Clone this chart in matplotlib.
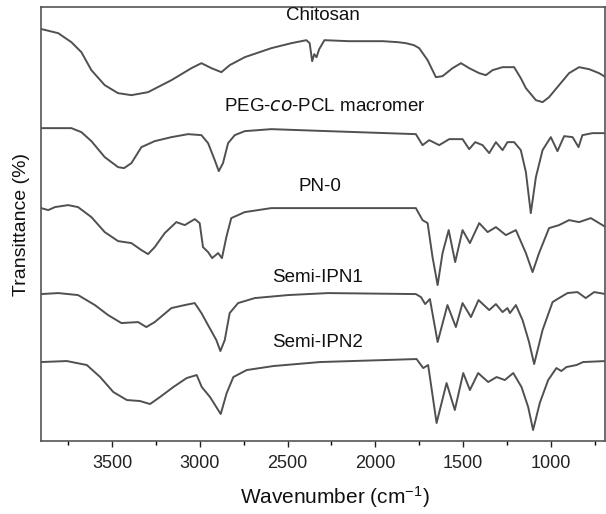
import matplotlib
matplotlib.use("Agg")
import matplotlib.pyplot as plt
from matplotlib.ticker import MultipleLocator

plt.rcParams['font.family'] = ['Liberation Sans', 'DejaVu Sans']
plt.rcParams['mathtext.default'] = 'regular'

# spectra: wavenumber (cm-1) and offset transmittance (a.u.)
chitosan_wn = [3900, 3807, 3732, 3675, 3618, 3542, 3466, 3390, 3295, 3162, 3048, 2991, 2934, 2877,
               2830, 2744, 2593, 2479, 2393, 2374, 2360, 2348, 2335, 2320, 2290, 2150, 1958, 1870,
               1826, 1780, 1750, 1702, 1655, 1617, 1560, 1512, 1465, 1408, 1370, 1332, 1275, 1209,
               1171, 1142, 1085, 1047, 1010, 953, 896, 839, 782, 725, 687]
chitosan_t = [412, 408, 399, 389, 371, 356, 348, 346, 349, 361, 373, 378, 373, 369,
              376, 384, 393, 398, 401, 398, 380, 387, 384, 392, 401, 400, 400, 399,
              398, 396, 393, 381, 364, 365, 373, 378, 373, 368, 366, 371, 374, 374,
              363, 353, 341, 339, 344, 356, 368, 374, 372, 368, 364]

peg_wn = [3904, 3732, 3675, 3618, 3542, 3466, 3432, 3390, 3333, 3257, 3162, 3067, 2991, 2953,
          2915, 2892, 2868, 2839, 2801, 2744, 2593, 2270, 1769, 1731, 1693, 1636, 1579, 1503,
          1465, 1431, 1389, 1351, 1313, 1275, 1247, 1209, 1171, 1142, 1114, 1085, 1047, 1000,
          962, 924, 876, 842, 820, 763, 687]
peg_t = [313, 313, 309, 300, 284, 274, 273, 278, 294, 300, 304, 307, 306, 298,
         281, 270, 278, 298, 306, 310, 312, 310, 307, 296, 301, 296, 302, 302,
         292, 299, 296, 288, 299, 291, 299, 299, 291, 269, 228, 264, 291, 304,
         290, 305, 304, 294, 306, 308, 308]

pn0_wn = [3904, 3864, 3826, 3751, 3694, 3618, 3542, 3466, 3390, 3333, 3295, 3257, 3200, 3134,
          3086, 3029, 3001, 2982, 2953, 2930, 2896, 2874, 2849, 2821, 2744, 2593, 2270, 1769,
          1731, 1702, 1674, 1645, 1617, 1582, 1545, 1503, 1461, 1408, 1360, 1313, 1256, 1199,
          1142, 1104, 1067, 1010, 953, 896, 839, 772, 687]
pn0_t = [233, 231, 234, 236, 234, 224, 209, 200, 198, 191, 187, 194, 208, 219,
         216, 222, 218, 194, 189, 183, 188, 183, 204, 223, 229, 233, 233, 233,
         221, 218, 184, 156, 188, 211, 179, 211, 198, 218, 209, 214, 206, 211,
         188, 169, 188, 213, 216, 221, 219, 223, 214]

ipn1_wn = [3904, 3807, 3694, 3598, 3523, 3447, 3352, 3305, 3257, 3162, 3086, 3029, 2991, 2944,
           2906, 2883, 2858, 2830, 2782, 2687, 2498, 2270, 1769, 1740, 1716, 1689, 1645, 1589,
           1541, 1503, 1455, 1412, 1351, 1313, 1275, 1247, 1233, 1199, 1161, 1124, 1095, 1047,
           990, 953, 905, 848, 801, 753, 687]
ipn1_t = [147, 148, 146, 136, 126, 118, 119, 114, 119, 133, 136, 138, 128, 113,
          101, 90, 101, 128, 138, 143, 146, 148, 147, 144, 137, 142, 99, 136,
          114, 138, 124, 141, 131, 137, 129, 133, 128, 136, 121, 99, 77, 111,
          139, 143, 148, 149, 143, 149, 147]

ipn2_wn = [3904, 3758, 3644, 3568, 3493, 3416, 3341, 3284, 3227, 3151, 3075, 3018, 2989, 2942,
           2881, 2847, 2809, 2733, 2581, 2315, 1765, 1727, 1699, 1651, 1594, 1547, 1499, 1461,
           1414, 1357, 1309, 1262, 1214, 1167, 1129, 1101, 1063, 1015, 968, 940, 911, 854,
           816, 687]
ipn2_t = [79, 80, 76, 64, 49, 41, 40, 37, 44, 54, 63, 66, 54, 44,
          27, 48, 64, 71, 75, 79, 82, 73, 76, 18, 58, 31, 68, 51,
          68, 59, 64, 61, 68, 54, 34, 11, 38, 61, 73, 70, 74, 76,
          79, 80]

names = ['Chitosan', 'PEG-$\\it{co}$-PCL macromer', 'PN-0', 'Semi-IPN1', 'Semi-IPN2']
label_pos = [(2298, 426), (2290, 335), (2318, 255), (2330, 164), (2330, 99)]

fig = plt.figure(figsize=(6.06, 5.14), dpi=100)
ax = fig.add_axes([0.0677, 0.142, 0.931, 0.844])

line_col = '#505050'
for wn, t in [(chitosan_wn, chitosan_t), (peg_wn, peg_t), (pn0_wn, pn0_t),
              (ipn1_wn, ipn1_t), (ipn2_wn, ipn2_t)]:
    ax.plot(wn, t, color=line_col, lw=1.4, solid_joinstyle='round')

for name, (x, y) in zip(names, label_pos):
    ax.text(x, y, name, ha='center', va='center', fontsize=13.5, color='#111111')

ax.set_xlim(3905, 690)
ax.set_ylim(0, 434)
ax.xaxis.set_major_locator(MultipleLocator(500))
ax.xaxis.set_minor_locator(MultipleLocator(250))
ax.set_yticks([])
ax.tick_params(axis='x', which='major', direction='out', length=4, width=1,
               labelsize=13, pad=6, colors='#222222')
ax.tick_params(axis='x', which='minor', direction='out', length=3, width=1)
for s in ax.spines.values():
    s.set_color('#555555')
    s.set_linewidth(1.2)

ax.set_xlabel('Wavenumber (cm$^{-1}$)', fontsize=15, color='#111111')
ax.xaxis.set_label_coords(0.52, -0.1)
ax.set_ylabel('Transittance (%)', fontsize=14, labelpad=8, color='#111111')

fig.savefig('out.png', dpi=100)
